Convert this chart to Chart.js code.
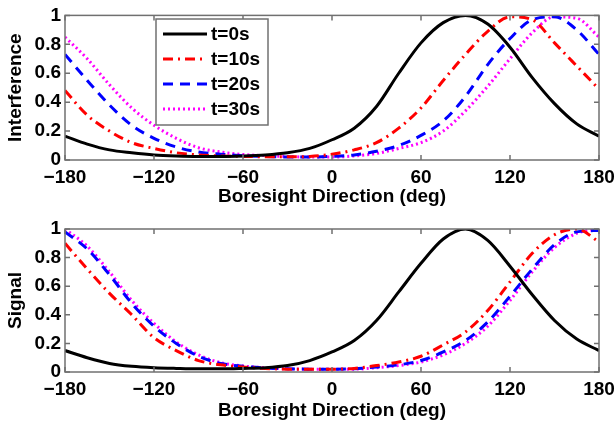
<!DOCTYPE html>
<html>
<head>
<meta charset="utf-8">
<script src="https://cdn.jsdelivr.net/npm/chart.js@4.4.1/dist/chart.umd.min.js"></script>
<style>
  html, body { margin: 0; padding: 0; background: #fff; }
  #wrap { position: relative; width: 616px; height: 425px; }
  canvas { position: absolute; left: 0; }
</style>
</head>
<body>
<div id="wrap">
  <canvas id="chartTop" width="616" height="208" style="top:0"></canvas>
  <canvas id="chartBottom" width="616" height="220" style="top:205px"></canvas>
</div>
<script>
// boresight angles (deg)
const angles = [-180, -165, -150, -135, -120, -105, -90, -75, -60, -45, -30, -15, 0, 15, 30, 45, 60, 75, 90, 105, 120, 135, 150, 165, 180];
const seriesNames = ['t=0s', 't=10s', 't=20s', 't=30s'];

// Interference (top panel)
const intT0  = [0.165, 0.11, 0.07, 0.05, 0.035, 0.028, 0.025, 0.025, 0.028, 0.035, 0.05, 0.08, 0.14, 0.22, 0.37, 0.6, 0.81, 0.95, 1.0, 0.94, 0.78, 0.57, 0.39, 0.25, 0.165];
const intT10 = [0.48, 0.31, 0.2, 0.12, 0.08, 0.05, 0.035, 0.028, 0.025, 0.022, 0.022, 0.025, 0.04, 0.07, 0.12, 0.22, 0.36, 0.55, 0.73, 0.89, 0.99, 0.97, 0.81, 0.65, 0.49];
const intT20 = [0.73, 0.55, 0.38, 0.24, 0.15, 0.09, 0.055, 0.04, 0.03, 0.025, 0.02, 0.02, 0.025, 0.035, 0.06, 0.1, 0.17, 0.27, 0.44, 0.66, 0.84, 0.97, 0.99, 0.9, 0.73];
const intT30 = [0.85, 0.7, 0.52, 0.36, 0.24, 0.15, 0.085, 0.055, 0.038, 0.03, 0.024, 0.02, 0.02, 0.028, 0.045, 0.08, 0.12, 0.2, 0.34, 0.51, 0.7, 0.88, 0.99, 0.98, 0.85];

// Signal (bottom panel)
const sigT0  = [0.15, 0.1, 0.06, 0.04, 0.03, 0.025, 0.022, 0.022, 0.025, 0.03, 0.045, 0.08, 0.14, 0.22, 0.36, 0.56, 0.76, 0.93, 1.0, 0.92, 0.74, 0.54, 0.36, 0.23, 0.15];
const sigT10 = [0.9, 0.72, 0.55, 0.4, 0.24, 0.15, 0.08, 0.05, 0.035, 0.025, 0.02, 0.02, 0.02, 0.025, 0.045, 0.07, 0.11, 0.19, 0.28, 0.43, 0.63, 0.83, 0.96, 1.0, 0.91];
const sigT20 = [0.98, 0.86, 0.68, 0.48, 0.32, 0.2, 0.11, 0.06, 0.04, 0.028, 0.022, 0.02, 0.02, 0.022, 0.035, 0.05, 0.08, 0.14, 0.22, 0.35, 0.53, 0.72, 0.89, 0.98, 0.99];
const sigT30 = [1.0, 0.88, 0.7, 0.5, 0.34, 0.21, 0.12, 0.065, 0.042, 0.03, 0.022, 0.02, 0.02, 0.02, 0.03, 0.045, 0.07, 0.12, 0.2, 0.32, 0.5, 0.7, 0.87, 0.97, 1.0];

const xTicks = [-180, -120, -60, 0, 60, 120, 180];
const yTicks = [0, 0.2, 0.4, 0.6, 0.8, 1];

const FONT = "'Liberation Sans', Arial, sans-serif";
const lineStyles = [
  { color: '#000000', dash: [] },
  { color: '#ff0000', dash: [10, 5, 2, 5] },
  { color: '#0000ff', dash: [10, 7] },
  { color: '#ff00ff', dash: [2, 3] }
];

function makeDatasets(list) {
  return list.map((vals, i) => ({
    label: seriesNames[i],
    data: angles.map((a, k) => ({ x: a, y: vals[k] })),
    borderColor: lineStyles[i].color,
    borderDash: lineStyles[i].dash,
    borderWidth: 3,
    pointRadius: 0,
    fill: false,
    cubicInterpolationMode: 'monotone'
  }));
}

// MATLAB-like box, inward ticks, optional legend
const boxPlugin = {
  id: 'matlabBox',
  afterDraw(chart, args, opts) {
    const { ctx, chartArea: a, scales } = chart;
    ctx.save();
    ctx.strokeStyle = '#707070';
    ctx.lineWidth = 1.5;
    ctx.strokeRect(a.left, a.top, a.right - a.left, a.bottom - a.top);
    ctx.beginPath();
    xTicks.forEach(v => {
      const px = scales.x.getPixelForValue(v);
      ctx.moveTo(px, a.bottom); ctx.lineTo(px, a.bottom - 5);
      ctx.moveTo(px, a.top); ctx.lineTo(px, a.top + 5);
    });
    yTicks.forEach(v => {
      const py = scales.y.getPixelForValue(v);
      ctx.moveTo(a.left, py); ctx.lineTo(a.left + 5, py);
      ctx.moveTo(a.right, py); ctx.lineTo(a.right - 5, py);
    });
    ctx.stroke();

    if (opts.legend) {
      const L = opts.legend;
      ctx.fillStyle = '#fff';
      ctx.fillRect(L.x, L.y, L.w, L.h);
      ctx.strokeStyle = '#707070';
      ctx.lineWidth = 1.5;
      ctx.strokeRect(L.x, L.y, L.w, L.h);
      ctx.font = 'bold 19px ' + FONT;
      ctx.textBaseline = 'middle';
      chart.data.datasets.forEach((ds, i) => {
        const yy = L.y + 15 + i * 25;
        ctx.beginPath();
        ctx.strokeStyle = ds.borderColor;
        ctx.lineWidth = 3;
        ctx.setLineDash(ds.borderDash);
        ctx.moveTo(L.x + 7, yy); ctx.lineTo(L.x + 51, yy);
        ctx.stroke();
        ctx.setLineDash([]);
        ctx.fillStyle = '#000';
        ctx.fillText(ds.label, L.x + 55, yy + 1);
      });
    }
    ctx.restore();
  }
};

function makeChart(id, datasets, yTitle, pad, xHeight, titleBottom, legend) {
  const bold = { family: FONT, size: 19, weight: 'bold' };
  return new Chart(document.getElementById(id), {
    type: 'line',
    data: { datasets },
    plugins: [boxPlugin],
    options: {
      responsive: false,
      animation: false,
      devicePixelRatio: 1,
      layout: { padding: { top: pad.top, right: 17, left: 0, bottom: 0 } },
      plugins: {
        legend: { display: false },
        tooltip: { enabled: false },
        matlabBox: { legend }
      },
      scales: {
        x: {
          type: 'linear', min: -180, max: 180,
          afterBuildTicks: s => { s.ticks = xTicks.map(v => ({ value: v })); },
          afterFit: s => { s.height = xHeight; s.paddingLeft = 0; s.paddingRight = 0; },
          grid: { display: false, drawTicks: false },
          border: { display: false },
          ticks: {
            color: '#000', font: bold, padding: 6,
            maxRotation: 0, autoSkip: false,
            callback: v => (v < 0 ? '\u2212' + Math.abs(v) : String(v))
          },
          title: {
            display: true, text: 'Boresight Direction (deg)', color: '#000',
            font: bold, padding: { top: 0, bottom: titleBottom }
          }
        },
        y: {
          min: 0, max: 1,
          afterBuildTicks: s => { s.ticks = yTicks.map(v => ({ value: v })); },
          afterFit: s => { s.width = 65; },
          grid: { display: false, drawTicks: false },
          border: { display: false },
          ticks: {
            color: '#000', font: bold, padding: 4,
            callback: v => String(Math.round(v * 10) / 10)
          },
          title: {
            display: true, text: yTitle, color: '#000',
            font: bold, padding: { top: 4, bottom: 0 }
          }
        }
      }
    }
  });
}

makeChart('chartTop', makeDatasets([intT0, intT10, intT20, intT30]), 'Interference',
  { top: 13 }, 48, 0, { x: 156, y: 19, w: 112, h: 106 });
makeChart('chartBottom', makeDatasets([sigT0, sigT10, sigT20, sigT30]), 'Signal',
  { top: 24 }, 53, 3, null);
</script>
</body>
</html>
